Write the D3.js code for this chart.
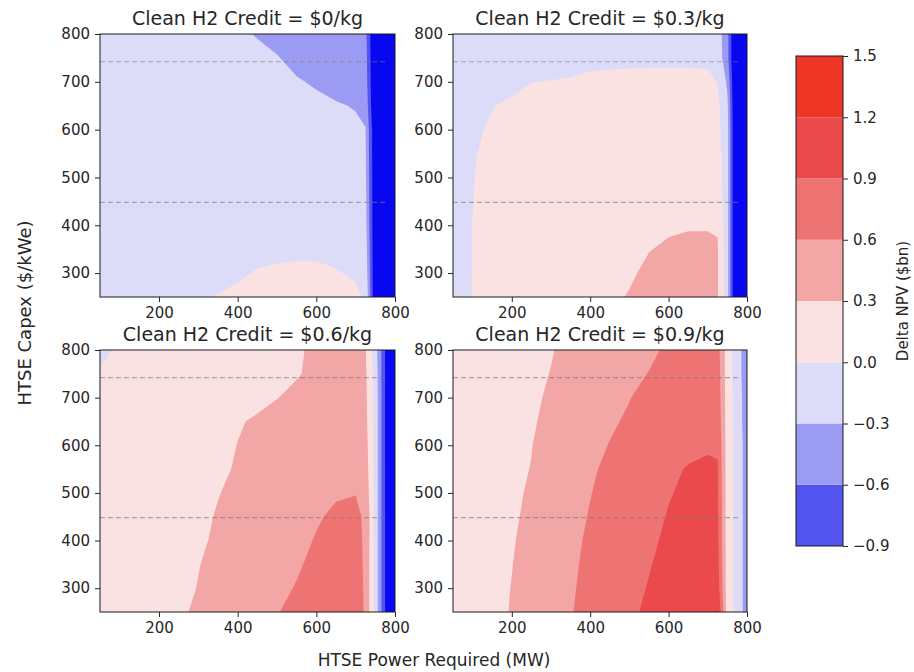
<!DOCTYPE html>
<html>
<head>
<meta charset="utf-8">
<script src="https://cdn.jsdelivr.net/npm/d3@7"></script>
<style>
  body { margin: 0; background: #fff; }
  text { font-family: "DejaVu Sans", sans-serif; fill: #262626; }
</style>
</head>
<body>
<svg id="chart" width="914" height="672"></svg>
<script>
// grid the results were computed on
const powerMW = [50, 100, 150, 200, 250, 300, 350, 400, 450, 500, 550, 600, 650, 700, 725, 750, 775, 800];
const capexPerKWe = [250, 300, 350, 400, 450, 500, 550, 600, 650, 700, 750, 800];

const creditTitles = ["Clean H2 Credit = $0/kg", "Clean H2 Credit = $0.3/kg",
                      "Clean H2 Credit = $0.6/kg", "Clean H2 Credit = $0.9/kg"];
const npvLevels = [-0.9, -0.6, -0.3, 0, 0.3, 0.6, 0.9, 1.2, 1.5];
const capexRefLines = [448, 742];
const xTickValues = [200, 400, 600, 800];
const yTickValues = [300, 400, 500, 600, 700, 800];

// Delta NPV ($bn), one row per capex value (250 -> 800), one column per power value
const deltaNpv0 = [
  [-0.1, -0.08, -0.07, -0.05, -0.03, -0.015, 0.006, 0.03, 0.05, 0.06, 0.07, 0.07, 0.06, 0.03, -0.02, -1.2, -3, -4],
  [-0.12, -0.1, -0.09, -0.08, -0.07, -0.05, -0.04, -0.02, 0.01, 0.02, 0.03, 0.03, 0.01, -0.02, -0.1, -1.2, -3, -4],
  [-0.14, -0.12, -0.11, -0.1, -0.09, -0.08, -0.07, -0.06, -0.04, -0.03, -0.03, -0.03, -0.04, -0.06, -0.15, -1.2, -3, -4],
  [-0.15, -0.13, -0.12, -0.11, -0.1, -0.09, -0.08, -0.07, -0.06, -0.06, -0.06, -0.06, -0.07, -0.1, -0.2, -1.2, -3, -4],
  [-0.16, -0.14, -0.13, -0.12, -0.11, -0.1, -0.1, -0.09, -0.09, -0.09, -0.09, -0.1, -0.11, -0.14, -0.22, -1.2, -3, -4],
  [-0.17, -0.15, -0.14, -0.13, -0.13, -0.12, -0.12, -0.12, -0.12, -0.12, -0.13, -0.14, -0.15, -0.18, -0.25, -1.2, -3, -4],
  [-0.18, -0.16, -0.15, -0.15, -0.14, -0.14, -0.14, -0.14, -0.15, -0.15, -0.16, -0.17, -0.19, -0.22, -0.27, -1.2, -3, -4],
  [-0.19, -0.17, -0.17, -0.16, -0.16, -0.16, -0.16, -0.17, -0.17, -0.18, -0.19, -0.21, -0.23, -0.27, -0.29, -1.2, -3, -4],
  [-0.2, -0.19, -0.18, -0.18, -0.18, -0.18, -0.19, -0.2, -0.21, -0.22, -0.24, -0.26, -0.285, -0.31, -0.38, -1.3, -3, -4],
  [-0.2, -0.19, -0.19, -0.19, -0.19, -0.19, -0.2, -0.21, -0.23, -0.25, -0.285, -0.32, -0.36, -0.4, -0.45, -1.3, -3, -4],
  [-0.21, -0.2, -0.2, -0.2, -0.2, -0.21, -0.22, -0.24, -0.26, -0.29, -0.35, -0.39, -0.42, -0.45, -0.48, -1.3, -3, -4],
  [-0.22, -0.21, -0.21, -0.21, -0.22, -0.23, -0.25, -0.27, -0.31, -0.36, -0.4, -0.43, -0.46, -0.49, -0.52, -1.3, -3, -4]
];
const deltaNpv03 = [
  [-0.06, 0.003, 0.05, 0.09, 0.13, 0.16, 0.2, 0.23, 0.27, 0.31, 0.35, 0.38, 0.4, 0.4, 0.32, -0.2, -1.5, -3],
  [-0.06, 0.002, 0.04, 0.08, 0.11, 0.14, 0.17, 0.2, 0.24, 0.28, 0.33, 0.36, 0.37, 0.37, 0.33, -0.2, -1.5, -3],
  [-0.07, 0.002, 0.04, 0.07, 0.1, 0.13, 0.16, 0.19, 0.22, 0.26, 0.295, 0.32, 0.33, 0.33, 0.32, -0.2, -1.5, -3],
  [-0.07, 0.002, 0.04, 0.07, 0.1, 0.12, 0.15, 0.17, 0.2, 0.23, 0.26, 0.28, 0.29, 0.29, 0.28, -0.2, -1.5, -3],
  [-0.08, -0.002, 0.04, 0.07, 0.09, 0.11, 0.13, 0.15, 0.17, 0.19, 0.21, 0.23, 0.24, 0.24, 0.2, -0.2, -1.5, -3],
  [-0.09, -0.004, 0.035, 0.06, 0.08, 0.1, 0.11, 0.13, 0.14, 0.16, 0.17, 0.18, 0.19, 0.19, 0.15, -0.2, -1.5, -3],
  [-0.1, -0.008, 0.025, 0.05, 0.07, 0.08, 0.09, 0.1, 0.11, 0.12, 0.13, 0.14, 0.14, 0.14, 0.12, -0.2, -1.5, -3],
  [-0.11, -0.02, 0.015, 0.035, 0.05, 0.06, 0.07, 0.08, 0.09, 0.1, 0.1, 0.11, 0.11, 0.11, 0.09, -0.2, -1.5, -3],
  [-0.12, -0.04, -0.005, 0.02, 0.035, 0.045, 0.055, 0.065, 0.07, 0.08, 0.08, 0.09, 0.09, 0.09, 0.06, -0.25, -1.5, -3],
  [-0.14, -0.09, -0.06, -0.03, -0.002, 0.006, 0.015, 0.04, 0.045, 0.05, 0.05, 0.05, 0.05, 0.045, -0.005, -0.35, -1.5, -3],
  [-0.2, -0.18, -0.16, -0.14, -0.12, -0.09, -0.07, -0.05, -0.045, -0.04, -0.035, -0.035, -0.035, -0.04, -0.12, -0.5, -1.5, -3],
  [-0.22, -0.2, -0.18, -0.16, -0.15, -0.13, -0.12, -0.11, -0.1, -0.09, -0.09, -0.09, -0.09, -0.1, -0.15, -0.5, -1.5, -3]
];
const deltaNpv06 = [
  [0.08, 0.12, 0.16, 0.2, 0.27, 0.33, 0.4, 0.46, 0.52, 0.59, 0.66, 0.72, 0.77, 0.8, 0.55, -0.1, -0.9, -1.5],
  [0.07, 0.11, 0.15, 0.2, 0.26, 0.305, 0.37, 0.43, 0.5, 0.56, 0.61, 0.68, 0.73, 0.76, 0.55, -0.1, -0.9, -1.5],
  [0.06, 0.1, 0.14, 0.19, 0.24, 0.295, 0.34, 0.4, 0.46, 0.52, 0.58, 0.64, 0.7, 0.72, 0.55, -0.1, -0.9, -1.5],
  [0.06, 0.09, 0.13, 0.18, 0.23, 0.28, 0.32, 0.37, 0.43, 0.49, 0.56, 0.61, 0.66, 0.68, 0.56, -0.1, -0.9, -1.5],
  [0.05, 0.09, 0.12, 0.17, 0.22, 0.27, 0.31, 0.35, 0.4, 0.46, 0.52, 0.585, 0.625, 0.64, 0.57, -0.1, -0.9, -1.5],
  [0.05, 0.08, 0.12, 0.16, 0.21, 0.25, 0.295, 0.33, 0.37, 0.42, 0.48, 0.54, 0.585, 0.595, 0.5, -0.1, -0.9, -1.5],
  [0.05, 0.08, 0.11, 0.15, 0.19, 0.23, 0.28, 0.31, 0.34, 0.38, 0.42, 0.47, 0.5, 0.52, 0.45, -0.1, -0.9, -1.5],
  [0.04, 0.07, 0.1, 0.14, 0.18, 0.22, 0.27, 0.302, 0.33, 0.36, 0.39, 0.42, 0.45, 0.47, 0.42, -0.1, -0.9, -1.5],
  [0.03, 0.06, 0.09, 0.13, 0.17, 0.21, 0.25, 0.29, 0.315, 0.34, 0.36, 0.39, 0.41, 0.43, 0.38, -0.1, -0.9, -1.5],
  [0.02, 0.05, 0.08, 0.11, 0.14, 0.17, 0.2, 0.24, 0.27, 0.297, 0.33, 0.36, 0.38, 0.4, 0.36, -0.1, -0.9, -1.5],
  [0.01, 0.04, 0.07, 0.1, 0.13, 0.16, 0.19, 0.22, 0.25, 0.275, 0.29, 0.33, 0.36, 0.38, 0.34, -0.12, -0.9, -1.5],
  [-0.03, 0.02, 0.05, 0.08, 0.11, 0.14, 0.17, 0.2, 0.23, 0.26, 0.29, 0.315, 0.34, 0.36, 0.32, -0.15, -0.9, -1.5]
];
const deltaNpv09 = [
  [0.12, 0.18, 0.25, 0.31, 0.41, 0.5, 0.59, 0.66, 0.74, 0.87, 0.93, 1.0, 1.07, 1.15, 1.22, 0.15, -0.1, -0.45],
  [0.11, 0.17, 0.24, 0.305, 0.4, 0.49, 0.58, 0.65, 0.73, 0.85, 0.91, 0.97, 1.03, 1.1, 1.05, 0.15, -0.1, -0.45],
  [0.1, 0.16, 0.23, 0.295, 0.38, 0.47, 0.57, 0.64, 0.72, 0.81, 0.89, 0.95, 1.0, 1.05, 1.0, 0.15, -0.1, -0.45],
  [0.09, 0.15, 0.22, 0.285, 0.36, 0.46, 0.57, 0.62, 0.7, 0.78, 0.87, 0.93, 0.97, 1.0, 0.97, 0.15, -0.1, -0.45],
  [0.08, 0.14, 0.21, 0.28, 0.33, 0.44, 0.55, 0.61, 0.68, 0.76, 0.85, 0.91, 0.95, 0.98, 0.95, 0.15, -0.1, -0.45],
  [0.08, 0.13, 0.2, 0.27, 0.32, 0.42, 0.52, 0.595, 0.65, 0.73, 0.82, 0.89, 0.93, 0.95, 0.93, 0.15, -0.1, -0.45],
  [0.07, 0.12, 0.19, 0.26, 0.305, 0.4, 0.5, 0.58, 0.63, 0.71, 0.8, 0.87, 0.91, 0.93, 0.92, 0.15, -0.1, -0.45],
  [0.06, 0.11, 0.18, 0.24, 0.295, 0.38, 0.47, 0.56, 0.605, 0.68, 0.77, 0.83, 0.86, 0.88, 0.87, 0.15, -0.1, -0.45],
  [0.05, 0.1, 0.17, 0.23, 0.285, 0.335, 0.42, 0.51, 0.58, 0.62, 0.71, 0.78, 0.82, 0.84, 0.82, 0.15, -0.12, -0.48],
  [0.04, 0.09, 0.15, 0.21, 0.275, 0.32, 0.39, 0.46, 0.53, 0.595, 0.65, 0.73, 0.78, 0.8, 0.78, 0.15, -0.12, -0.48],
  [0.03, 0.08, 0.14, 0.2, 0.26, 0.305, 0.37, 0.43, 0.5, 0.56, 0.605, 0.69, 0.74, 0.77, 0.75, 0.15, -0.15, -0.5],
  [0.02, 0.07, 0.13, 0.19, 0.24, 0.29, 0.35, 0.41, 0.47, 0.52, 0.57, 0.625, 0.7, 0.74, 0.72, 0.15, -0.15, -0.5]
];
const panelData = [deltaNpv0, deltaNpv03, deltaNpv06, deltaNpv09];

// one colour per band between consecutive levels, plus the colour below the lowest level
const bandColors = ["#5353f0", "#9b9bf3", "#dcdcf8", "#fbe2e2", "#f3a6a6", "#ee7373", "#ea4a4c", "#ee3626"];
const underColor = "#0707f0";

const panelBoxes = [
  { left: 100, right: 395, top: 34, bottom: 297 },
  { left: 453, right: 747, top: 34, bottom: 297 },
  { left: 100, right: 395, top: 350, bottom: 612 },
  { left: 453, right: 747, top: 350, bottom: 612 }
];

const svg = d3.select("#chart");
const nx = powerMW.length, ny = capexPerKWe.length;
const toPower = d3.scaleLinear().domain(d3.range(nx)).range(powerMW);
const toCapex = d3.scaleLinear().domain(d3.range(ny)).range(capexPerKWe);
const clamp = (v, hi) => Math.max(0, Math.min(hi, v));

panelData.forEach((grid, i) => {
  const b = panelBoxes[i];
  const x = d3.scaleLinear().domain([50, 800]).range([b.left, b.right]);
  const y = d3.scaleLinear().domain([250, 800]).range([b.bottom, b.top]);
  const g = svg.append("g");

  // grid coordinates from d3.contours -> data -> pixels
  const gridProj = d3.geoTransform({
    point(c, r) {
      this.stream.point(x(toPower(clamp(c - 0.5, nx - 1))), y(toCapex(clamp(r - 0.5, ny - 1))));
    }
  });
  const path = d3.geoPath(gridProj);

  g.append("rect")
    .attr("x", b.left).attr("y", b.top)
    .attr("width", b.right - b.left).attr("height", b.bottom - b.top)
    .attr("fill", underColor);

  const bands = d3.contours()
    .size([nx, ny])
    .thresholds(npvLevels.slice(0, -1))(grid.flat());

  g.selectAll("path.band")
    .data(bands)
    .join("path")
    .attr("class", "band")
    .attr("d", path)
    .attr("fill", (d, k) => bandColors[k]);

  // reference capex lines
  g.selectAll("line.ref")
    .data(capexRefLines)
    .join("line")
    .attr("class", "ref")
    .attr("x1", x(50)).attr("x2", x(780))
    .attr("y1", d => y(d)).attr("y2", d => y(d))
    .attr("stroke", "#7a7a7a")
    .attr("stroke-opacity", 0.6)
    .attr("stroke-width", 1.2)
    .attr("stroke-dasharray", "5,3");

  // axes
  g.append("g")
    .attr("transform", `translate(0,${b.bottom})`)
    .call(d3.axisBottom(x).tickValues(xTickValues).tickSize(5).tickPadding(5).tickSizeOuter(0))
    .call(a => a.select(".domain").remove())
    .attr("font-size", 15).attr("font-family", "DejaVu Sans");

  g.append("g")
    .attr("transform", `translate(${b.left},0)`)
    .call(d3.axisLeft(y).tickValues(yTickValues).tickSize(5).tickPadding(5).tickSizeOuter(0))
    .call(a => a.select(".domain").remove())
    .attr("font-size", 15).attr("font-family", "DejaVu Sans");

  g.selectAll(".tick line").attr("stroke", "#262626");

  g.append("rect")
    .attr("x", b.left).attr("y", b.top)
    .attr("width", b.right - b.left).attr("height", b.bottom - b.top)
    .attr("fill", "none").attr("stroke", "#1a1a1a").attr("stroke-width", 1);

  g.append("text")
    .attr("x", (b.left + b.right) / 2)
    .attr("y", b.top - 9)
    .attr("text-anchor", "middle")
    .style("font-size", "19px")
    .text(creditTitles[i]);
});

// axis labels
svg.append("text")
  .attr("x", 434).attr("y", 666)
  .attr("text-anchor", "middle")
  .style("font-size", "17px")
  .text("HTSE Power Required (MW)");

svg.append("text")
  .attr("transform", "translate(31,313) rotate(-90)")
  .attr("text-anchor", "middle")
  .style("font-size", "18px")
  .text("HTSE Capex ($/kWe)");

// colorbar
const cb = d3.scaleLinear().domain([-0.9, 1.5]).range([546, 56]);
const cbg = svg.append("g");
cbg.selectAll("rect.cb")
  .data(d3.pairs(npvLevels))
  .join("rect")
  .attr("class", "cb")
  .attr("x", 796).attr("width", 47)
  .attr("y", d => cb(d[1]))
  .attr("height", d => cb(d[0]) - cb(d[1]))
  .attr("fill", (d, k) => bandColors[k]);

cbg.append("rect")
  .attr("x", 796).attr("y", 56).attr("width", 47).attr("height", 490)
  .attr("fill", "none").attr("stroke", "#1a1a1a").attr("stroke-width", 1);

cbg.append("g")
  .attr("transform", "translate(843,0)")
  .call(d3.axisRight(cb).tickValues(npvLevels).tickFormat(d3.format(".1f")).tickSize(5).tickPadding(5).tickSizeOuter(0))
  .call(a => a.select(".domain").remove())
  .attr("font-size", 15).attr("font-family", "DejaVu Sans")
  .call(a => a.selectAll(".tick line").attr("stroke", "#262626"));

svg.append("text")
  .attr("transform", "translate(908,301) rotate(-90)")
  .attr("text-anchor", "middle")
  .style("font-size", "15px")
  .text("Delta NPV ($bn)");
</script>
</body>
</html>
